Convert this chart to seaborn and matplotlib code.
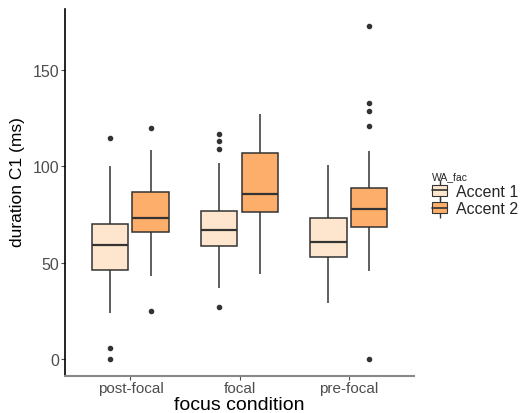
import pandas as pd
import matplotlib.pyplot as plt
import seaborn as sns
from matplotlib.patches import Patch
from matplotlib.lines import Line2D
from matplotlib.legend_handler import HandlerTuple

# focus conditions on the x axis
conditions = ["post-focal", "focal", "pre-focal"]
accents = ["Accent 1", "Accent 2"]
colors = ["#FEE6CE", "#FDAE6B"]

# box summaries (ms): whisker low, Q1, median, Q3, whisker high
accent1_whislo = [24, 37, 29]
accent1_q1 = [46.5, 59, 53]
accent1_med = [59.5, 67, 61]
accent1_q3 = [70, 77, 73.5]
accent1_whishi = [100, 102, 101]
accent1_outliers = [[0, 6, 115], [27, 109, 113, 117], []]

accent2_whislo = [43, 44, 46]
accent2_q1 = [66, 76.5, 68.5]
accent2_med = [73.5, 85.5, 78]
accent2_q3 = [87, 107, 89]
accent2_whishi = [108.5, 127, 108]
accent2_outliers = [[25, 120], [], [0, 121, 129, 133, 173]]


def sample_from_summary(lo, q1, med, q3, hi, out):
    # build a sample whose quartiles / whiskers / outliers match the summary
    low = sorted(v for v in out if v < lo)
    high = sorted(v for v in out if v > hi)
    m = max(len(low), len(high)) + 1
    return (low + [lo] + [q1] * (m - len(low)) + [med] * m
            + [q3] * (2 * m - len(high) - 1) + [hi] + high)


rows = []
summaries = {
    "Accent 1": (accent1_whislo, accent1_q1, accent1_med, accent1_q3, accent1_whishi, accent1_outliers),
    "Accent 2": (accent2_whislo, accent2_q1, accent2_med, accent2_q3, accent2_whishi, accent2_outliers),
}
for acc, (lo, q1, med, q3, hi, out) in summaries.items():
    for i, cond in enumerate(conditions):
        for v in sample_from_summary(lo[i], q1[i], med[i], q3[i], hi[i], out[i]):
            rows.append({"focus": cond, "WA_fac": acc, "duration": v})
df = pd.DataFrame(rows)

sns.set_style("white")
plt.rcParams["font.family"] = ["Liberation Sans", "DejaVu Sans"]

fig = plt.figure(figsize=(5.24, 4.14), dpi=100)
ax = fig.add_axes([65 / 524, 1 - 377 / 414, (414 - 65) / 524, (377 - 10) / 414])

sns.boxplot(data=df, x="focus", y="duration", hue="WA_fac", order=conditions,
            hue_order=accents, palette=colors, saturation=1, width=0.75, gap=0.1,
            linewidth=1.1, linecolor="#333333", showcaps=False, whis=1.5,
            flierprops=dict(marker="o", markersize=3, markerfacecolor="#333333",
                            markeredgecolor="#333333"),
            medianprops=dict(linewidth=1.6, color="#333333"),
            legend=False, ax=ax)

ax.set_xlim(-0.6, 2.6)
ax.set_ylim(-8.65, 181.65)
ax.set_yticks([0, 50, 100, 150])
ax.set_xlabel("focus condition", fontsize=14, color="black")
ax.xaxis.label.set_va("baseline")
ax.xaxis.set_label_coords(0.5, -(410 - 377) / 367)
ax.set_ylabel("duration C1 (ms)", fontsize=12.5, color="black")
ax.yaxis.label.set_va("center")
ax.yaxis.set_label_coords((17 - 65) / 349, (377 - 182) / 367)
ax.tick_params(axis="both", length=3, width=0.8, color="#4D4D4D",
               labelcolor="#4D4D4D", labelsize=11.5, pad=1, left=True, bottom=True)
ax.tick_params(axis="x", labelsize=11, pad=0.5)

for side in ["top", "right"]:
    ax.spines[side].set_visible(False)
ax.spines["left"].set_color("black")
ax.spines["left"].set_linewidth(1.2)
ax.spines["bottom"].set_color("#888888")
ax.spines["bottom"].set_linewidth(1.5)

# ggplot-like legend keys: whisker stub, box, median line
handles = []
for c in colors:
    handles.append((Line2D([], [], marker="|", markersize=14, color="#333333", linestyle="none"),
                    Patch(facecolor=c, edgecolor="#333333", linewidth=0.8),
                    Line2D([], [], color="#333333", linewidth=1.2)))
leg = fig.legend(handles, accents, title="WA_fac", loc="upper left",
                 bbox_to_anchor=(426 / 524, 1 - 166 / 414), frameon=False,
                 fontsize=11.5, title_fontsize=7.5, handlelength=0.9, handleheight=0.7,
                 handletextpad=0.6, labelspacing=0.15, borderaxespad=0,
                 handler_map={tuple: HandlerTuple(ndivide=1)})
leg._legend_box.align = "left"

fig.savefig("out.png", dpi=100)
